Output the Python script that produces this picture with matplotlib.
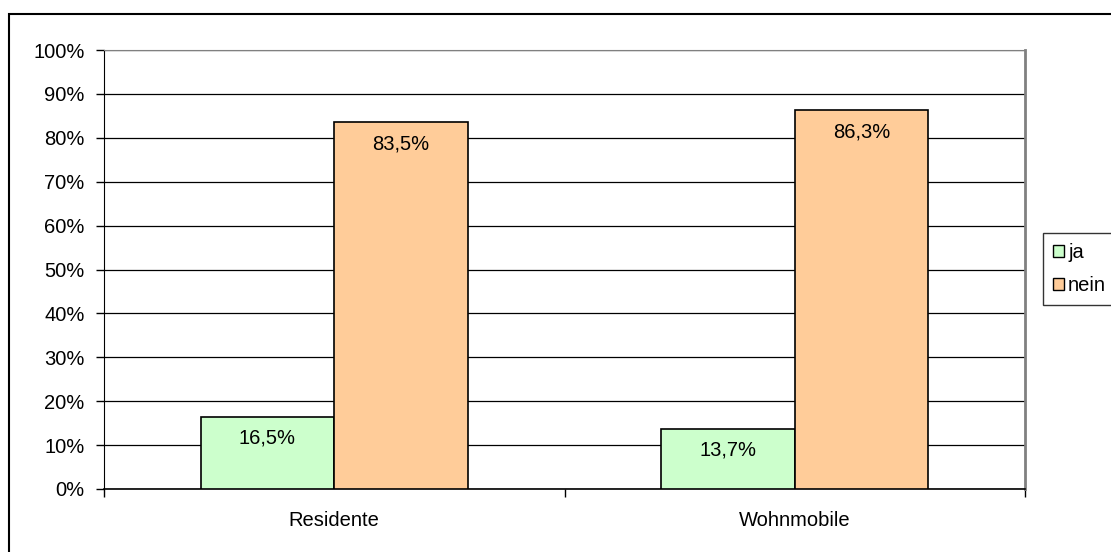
import numpy as np
import matplotlib.pyplot as plt
from matplotlib.patches import Rectangle, Patch

plt.rcParams['font.family'] = ['Liberation Sans', 'DejaVu Sans']

# Daten
kategorien = ["Residente", "Wohnmobile"]
ja = [16.5, 13.7]
nein = [83.5, 86.3]
serien = ["ja", "nein"]
farben = ["#CCFFCC", "#FFCC99"]

FS = 14.5

fig = plt.figure(figsize=(11.11, 5.52), dpi=100)
ax = fig.add_axes([104 / 1111, 1 - 489 / 552, 921 / 1111, 439 / 552])

x = np.arange(len(kategorien)) + 0.5
w = 0.29

for i, (werte, farbe) in enumerate(zip([ja, nein], farben)):
    pos = x + (i - 0.5) * w
    bars = ax.bar(pos, werte, width=w, color=farbe, edgecolor="black",
                  linewidth=1.2, zorder=3)
    for b, v in zip(bars, werte):
        ax.annotate(f"{v:.1f}%".replace(".", ","),
                    xy=(b.get_x() + b.get_width() / 2, v),
                    xytext=(0, -15.5), textcoords="offset points",
                    ha="center", va="center", fontsize=FS, zorder=4)

ax.set_xlim(0, 2)
ax.set_ylim(0, 100)
ax.set_yticks(np.arange(0, 101, 10))
ax.set_yticklabels([f"{t}%" for t in range(0, 101, 10)], fontsize=FS)
ax.set_xticks([0, 1, 2])
ax.set_xticklabels([])
ax.set_xticks(x, minor=True)
ax.set_xticklabels(kategorien, minor=True, fontsize=FS)
ax.tick_params(axis="x", which="minor", length=0, pad=16)
ax.tick_params(axis="x", which="major", length=6, width=1, direction="out")
ax.tick_params(axis="y", length=6, width=1, direction="out", pad=8)

ax.yaxis.grid(True, color="black", linewidth=0.9, zorder=0)
ax.set_axisbelow(True)

ax.spines["left"].set_color("black")
ax.spines["bottom"].set_color("black")
ax.spines["bottom"].set_linewidth(1.2)
ax.spines["top"].set_color("#808080")
ax.spines["right"].set_color("#808080")
ax.spines["right"].set_linewidth(2)

# Legende
handles = [Patch(facecolor=f, edgecolor="black", linewidth=1) for f in farben]
leg = fig.legend(handles, serien, loc="upper left",
                 bbox_to_anchor=(1043 / 1111, 1 - 233 / 552),
                 fontsize=FS, frameon=True, fancybox=False,
                 handlelength=0.55, handleheight=0.55, handletextpad=0.2,
                 labelspacing=0.7, borderpad=0.5, borderaxespad=0)
leg.get_frame().set_edgecolor("black")
leg.get_frame().set_linewidth(1)

# Rahmen um das Diagramm
fig.add_artist(Rectangle((9 / 1111, -0.1), 1.2, 1.1 - 14 / 552,
                         transform=fig.transFigure, fill=False,
                         edgecolor="black", linewidth=1.5, clip_on=False))

fig.savefig("out.png", dpi=100)
